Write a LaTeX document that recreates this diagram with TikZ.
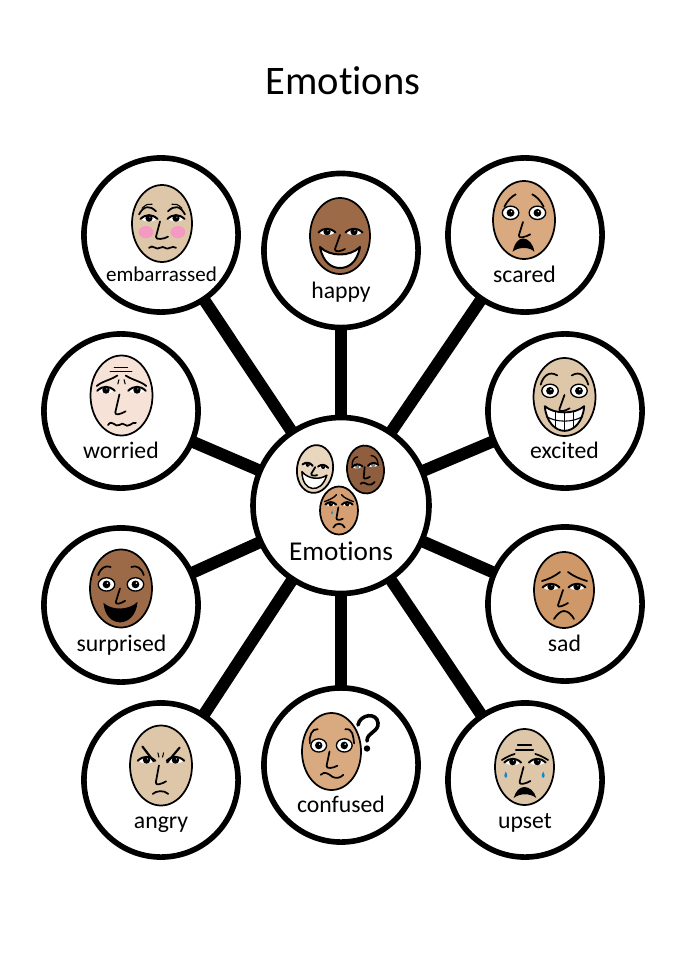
\documentclass[tikz,border=0pt]{standalone}
\usepackage{fontspec}
\setmainfont[Ligatures={NoCommon}]{Carlito}
\usetikzlibrary{backgrounds}
\tikzset{
  bubble/.style={circle,draw=black,fill=white,line width=4.2pt,minimum size=115.6pt,inner sep=0pt},
  hubble/.style={circle,draw=black,fill=white,line width=4.2pt,minimum size=132pt,inner sep=0pt},
  conn/.style={draw=black,line width=9pt},
  feat/.style={draw=black,line width=1.3pt,line cap=round,line join=round,fill=none},
  thin feat/.style={draw=black,line width=.8pt,line cap=round,fill=none},
  lab/.style={anchor=base,font=\fontsize{17.8pt}{20pt}\selectfont,inner sep=0pt},
}
% almond eye
\newcommand{\almond}[3][black]{\begin{scope}[shift={(#2,#3)}]
 \fill[white] (-8.5,.5) .. controls (-3,-4.5) and (3,-4.5) .. (8.5,.5) .. controls (3,4) and (-3,4) .. cycle;
 \fill[#1] (0,-.3) circle (3.6);
 \fill[white] (.9,-1.3) circle (.6);
 \draw[feat,line width=1.5pt] (-8.5,.5) .. controls (-3,-4.5) and (3,-4.5) .. (8.5,.5);
\end{scope}}
% round staring eye
\newcommand{\roundeye}[2]{\begin{scope}[shift={(#1,#2)}]
 \filldraw[fill=white,draw=black,line width=1pt] (0,0) ellipse (8 and 6.5);
 \fill[black] (0,0) circle (3.8);
 \fill[white] (.9,-1.2) circle (.8);
\end{scope}}
\newcommand{\tear}[2]{\fill[cyan!70!blue] (#1,#2-3.5) .. controls (#1+2,#2) and (#1+2,#2+3) .. (#1,#2+3) .. controls (#1-2,#2+3) and (#1-2,#2) .. (#1,#2-3.5);}
% nose: top x,y; tip x,y; end x,y
\newcommand{\nose}[6]{\draw[feat] (#1,#2) -- (#3,#4) .. controls (#3-.8,#4+3.5) and (#5-4,#6+2.5) .. (#5,#6);}
\newcommand{\facebase}[5]{\filldraw[fill=#5,draw=black,line width=1.3pt] (#1,#2) ellipse (#3 and #4);}
\newenvironment{facein}[5][0]{\begin{scope}[shift={(#2,#3)},rotate=#1,xscale=#4/30,yscale=#5/38]}{\end{scope}}
\definecolor{skinA}{HTML}{DEC6A8}
\definecolor{skinB}{HTML}{9C6A46}
\definecolor{skinC}{HTML}{D9A980}
\definecolor{skinD}{HTML}{F6E2D7}
\definecolor{skinE}{HTML}{CF9868}
\definecolor{skinF}{HTML}{E8D6BE}
\definecolor{skinG}{HTML}{8E5E3E}
\definecolor{skinH}{HTML}{D59F73}
\definecolor{cheek}{HTML}{F49AC2}
\begin{document}
\begin{tikzpicture}[x=.75pt,y=-.75pt]
\useasboundingbox (0,0) rectangle (686,970);
\node[anchor=base,font=\fontsize{30.4pt}{34pt}\selectfont,inner sep=0pt] (title) at (343,95) {Emotions};

\node[hubble] (hub) at (341,505.5) {};
\node[bubble] (embarrassed) at (161,235) {};
\node[bubble] (happy) at (341,250.5) {};
\node[bubble] (scared) at (525,235) {};
\node[bubble] (worried) at (121,411) {};
\node[bubble] (excited) at (565,411) {};
\node[bubble] (surprised) at (121,605) {};
\node[bubble] (sad) at (565,604) {};
\node[bubble] (angry) at (161,780) {};
\node[bubble] (confused) at (341,765) {};
\node[bubble] (upset) at (525,780) {};
\begin{scope}[on background layer]
\fill[white] (0,0) rectangle (686,970);
\foreach \t in {embarrassed,happy,scared,worried,excited,surprised,sad,angry,confused,upset}
  \draw[conn] (hub.center) -- (\t.center);
\end{scope}

\node[lab,font=\fontsize{15.8pt}{18pt}\selectfont] (tembarrassed) at (161.5,281.5) {embarrassed};
\node[lab] (thappy) at (341,298) {happy};
\node[lab] (tscared) at (524.5,282) {scared};
\node[lab] (tworried) at (121,458.5) {worried};
\node[lab] (texcited) at (564.5,458.5) {excited};
\node[lab] (tsurprised) at (121.5,651) {surprised};
\node[lab] (tsad) at (564.5,651.5) {sad};
\node[lab] (tangry) at (161,828.5) {angry};
\node[lab] (tconfused) at (341,812) {confused};
\node[lab] (tupset) at (525,828) {upset};
\node[lab,font=\fontsize{20.4pt}{22pt}\selectfont] (themotions) at (341,560.5) {Emotions};

% embarrassed
\begin{facein}{162}{223.5}{30}{38.5}
\facebase{0}{0}{30}{38}{skinA}
\fill[cheek] (-16,8.5) ellipse (7.5 and 6); \fill[cheek] (16,8.5) ellipse (7.5 and 6);
\almond{-13}{-5}\almond{14}{-5}
\draw[feat] (-23,-9) .. controls (-18,-18) and (-12,-18) .. (-6,-12);
\draw[thin feat] (-20,-15) .. controls (-16,-19) and (-13,-20) .. (-10,-19);
\draw[feat] (23,-9) .. controls (18,-18) and (12,-18) .. (6,-12);
\draw[thin feat] (20,-15) .. controls (16,-19) and (13,-20) .. (10,-19);
\nose{-2}{-2}{-6}{13}{6}{13}
\draw[feat] (-13,24) .. controls (-9,20) and (-6,27) .. (-2,24) .. controls (2,21) and (4,27) .. (8,24) .. controls (10,22.5) and (12,23) .. (14,24);
\end{facein}
% happy
\begin{facein}{340}{236}{30}{38}
\facebase{0}{0}{30}{38}{skinB}
\almond{-13}{-4}\almond{14}{-4}
\nose{0}{-1}{-5}{13}{5}{13}
\filldraw[fill=white,draw=black,line width=1.5pt,line join=round] (-20,11) .. controls (-10,21) and (10,21) .. (20,11) .. controls (17,27) and (8,32) .. (0,32) .. controls (-8,32) and (-17,27) .. cycle;
\end{facein}
% scared
\begin{facein}{524}{220}{31}{39}
\facebase{0}{0}{30}{38}{skinC}
\roundeye{-13}{-7}\roundeye{13}{-7}
\draw[feat] (-19,-13) .. controls (-16,-19) and (-12,-23) .. (-8,-25);
\draw[feat] (19,-13) .. controls (16,-19) and (12,-23) .. (8,-25);
\nose{-1}{2}{-5}{15}{6}{14}
\fill[black] (-11,31) .. controls (-9,22) and (-5,18) .. (-1,18) .. controls (4,18) and (9,23) .. (10,31) .. controls (6,26) and (-6,26) .. cycle;
\end{facein}
% excited
\begin{facein}{564.5}{397}{31}{39}
\facebase{0}{0}{30}{38}{skinA}
\roundeye{-14}{-6}\roundeye{14}{-6}
\draw[feat] (-23,-12) .. controls (-21,-20) and (-15,-26) .. (-7,-21);
\draw[feat] (23,-12) .. controls (21,-20) and (15,-26) .. (7,-21);
\nose{0}{-2}{-5}{12}{5}{11}
\filldraw[fill=white,draw=black,line width=1.4pt,line join=round] (-19,9) .. controls (-10,17) and (10,17) .. (19,9) .. controls (18,24) and (9,33) .. (0,33) .. controls (-9,33) and (-18,24) .. cycle;
\draw[thin feat] (-17.5,19) .. controls (-8,25) and (8,25) .. (17.5,19);
\draw[thin feat] (-9,14.5) -- (-9,30); \draw[thin feat] (0,16) -- (0,33); \draw[thin feat] (9,14.5) -- (9,30);
\end{facein}
% worried
\begin{facein}{121.5}{395.5}{31}{40}
\facebase{0}{0}{30}{38}{skinD}
\almond{-15}{-5}\almond{15}{-5}
\draw[thin feat] (-11,-23) -- (10,-23); \draw[thin feat] (-7,-27) -- (6,-27);
\draw[feat] (-24,-9) .. controls (-18,-14) and (-12,-14) .. (-4,-19);
\draw[feat] (24,-9) .. controls (18,-14) and (12,-14) .. (4,-19);
\draw[thin feat] (-2.5,-15) -- (-3.5,-11); \draw[thin feat] (2.5,-15) -- (3.5,-11);
\nose{-2}{-1}{-6}{16}{4}{15}
\draw[feat] (-13,28) .. controls (-9,22) and (-6,31) .. (-2,28) .. controls (2,24) and (4,31) .. (8,28) .. controls (10,26) and (12,26) .. (14,26);
\end{facein}
% surprised
\begin{facein}{121}{588.5}{31}{39}
\facebase{0}{0}{30}{38}{skinB}
\roundeye{-14}{-4}\roundeye{14}{-4}
\draw[feat] (-22,-13) .. controls (-20,-20) and (-15,-23) .. (-10,-21);
\draw[feat] (22,-13) .. controls (20,-20) and (15,-23) .. (10,-21);
\nose{-1}{0}{-5}{13}{4}{12}
\fill[black] (-17,14) .. controls (-8,22) and (8,21) .. (16,13) .. controls (15,26) and (7,33) .. (-1,33) .. controls (-9,33) and (-16,26) .. cycle;
\end{facein}
% sad
\begin{facein}{564}{590}{30}{38}
\facebase{0}{0}{30}{38}{skinE}
\almond{-13}{-3}\almond{13}{-3}
\draw[feat] (-22,-9) .. controls (-15,-11) and (-9,-14) .. (-4,-18);
\draw[feat] (23,-9) .. controls (16,-11) and (9,-14) .. (4,-18);
\nose{-1}{0}{-6}{15}{4}{13}
\draw[feat] (-10,29) .. controls (-7,24) and (-3,21) .. (0,21) .. controls (4,21) and (8,25) .. (10,29);
\end{facein}
% angry
\begin{facein}{161}{765.5}{31}{40}
\facebase{0}{0}{30}{38}{skinA}
\almond{-14}{-5}\almond{14}{-5}
\draw[black,line width=1.6pt,line cap=round] (-18,-18) -- (-7,-4);
\draw[black,line width=1.6pt,line cap=round] (18,-17) -- (6,-3);
\draw[thin feat] (-3,-12) -- (-2,-8); \draw[thin feat] (2.5,-12) -- (1.5,-8);
\nose{-2}{0}{-5}{16}{5}{15}
\draw[feat] (-8,27) .. controls (-5,24) and (3,23) .. (7,27);
\end{facein}
% confused
\begin{facein}{331.5}{751.5}{29.5}{38.5}
\facebase{0}{0}{30}{38}{skinC}
\roundeye{-13}{-6}\roundeye{13}{-6}
\draw[feat] (-22,-8) .. controls (-23,-15) and (-20,-23) .. (-14,-22);
\draw[feat] (23,-8) .. controls (22,-15) and (22,-23) .. (14,-22);
\nose{-2}{0}{-5}{14}{6}{14}
\draw[feat] (-11,23) .. controls (-7,19) and (-3,22) .. (1,25) .. controls (5,27) and (9,26) .. (12,23);
\end{facein}
\draw[feat,line width=2.7pt] (358,725) .. controls (360,714) and (377,712) .. (378,723) .. controls (379,732) and (367,732) .. (367,741);
\fill[black] (367,748.5) circle (3.2);
% upset
\begin{facein}{524.5}{767}{29.5}{38}
\facebase{0}{0}{30}{38}{skinA}
\almond{-12}{-5}\almond{13}{-5}
\draw[thin feat] (-9,-17) -- (9,-17); \draw[thin feat] (-7,-22) -- (7,-22);
\draw[feat] (-23,-7) .. controls (-18,-10) and (-14,-12) .. (-10,-13);
\draw[feat] (24,-7) .. controls (19,-10) and (15,-12) .. (11,-13);
\tear{-19}{8}\tear{19}{8}
\nose{-1}{0}{-5}{15}{6}{14}
\fill[black] (-11,31) .. controls (-9,24) and (-5,20) .. (0,20) .. controls (5,20) and (10,24) .. (12,31) .. controls (6,26) and (-5,26) .. cycle;
\end{facein}
% hub faces
\begin{facein}[-8]{315}{469}{18}{24}
\facebase{0}{0}{30}{38}{skinF}
\almond{-13}{-5}\almond{13}{-5}
\nose{0}{-3}{-5}{8}{5}{9}
\filldraw[fill=white,draw=black,line width=1.1pt,line join=round] (-21,7) .. controls (-10,17) and (10,17) .. (21,7) .. controls (18,24) and (9,31) .. (0,31) .. controls (-9,31) and (-18,24) .. cycle;
\end{facein}
\begin{facein}[5]{365.5}{469.5}{18.5}{24}
\facebase{0}{0}{30}{38}{skinG}
\almond[gray]{-13}{-6}\almond[gray]{13}{-6}
\draw[feat,line width=1pt] (-21,-8) .. controls (-21,-16) and (-16,-21) .. (-11,-21);
\draw[feat,line width=1pt] (21,-8) .. controls (21,-16) and (16,-21) .. (11,-21);
\nose{-1}{-4}{-4}{12}{6}{12}
\draw[feat] (-10,22) .. controls (-6,18) and (-2,22) .. (2,24) .. controls (6,26) and (10,24) .. (13,21);
\end{facein}
\begin{facein}{339}{510.5}{19}{24}
\facebase{0}{0}{30}{38}{skinH}
\almond{-13}{-10}\almond{13}{-10}
\draw[feat,line width=1pt] (-23,-14) .. controls (-15,-17) and (-8,-20) .. (-4,-25);
\draw[feat,line width=1pt] (23,-14) .. controls (15,-17) and (8,-20) .. (4,-25);
\tear{-11}{3}
\nose{-1}{-5}{-4}{12}{6}{13}
\draw[feat] (-9,27) .. controls (-6,19) and (6,19) .. (9,27);
\end{facein}
\end{tikzpicture}
\end{document}
